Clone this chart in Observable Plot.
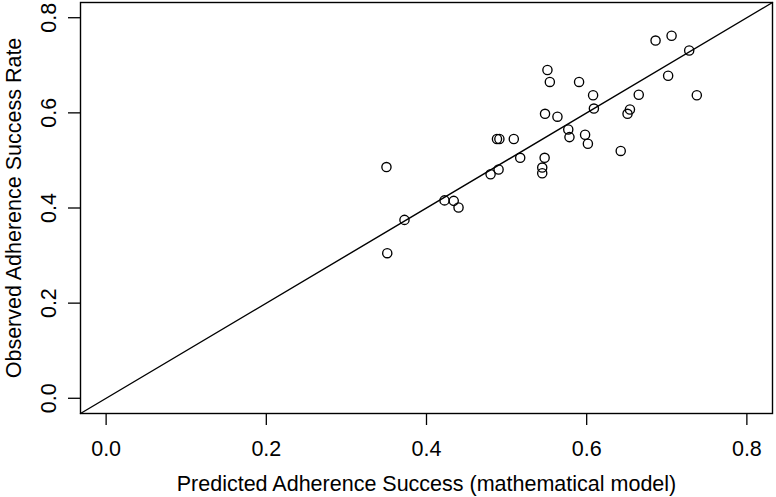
<!DOCTYPE html>
<html>
<head>
<meta charset="utf-8">
<script src="https://cdn.jsdelivr.net/npm/d3@7"></script>
<script src="https://cdn.jsdelivr.net/npm/@observablehq/plot@0.6"></script>
<style>
  html, body { margin: 0; padding: 0; background: #fff; }
</style>
</head>
<body>
<div id="chart"></div>
<script>
// Predicted (mathematical model) vs observed adherence success rate
const predicted = [0.350, 0.351, 0.3725, 0.4225, 0.434, 0.440, 0.480, 0.490, 0.488, 0.491,
                   0.509, 0.517, 0.5475, 0.5445, 0.5445, 0.551, 0.554, 0.548, 0.5635, 0.577,
                   0.5785, 0.598, 0.6015, 0.5905, 0.608, 0.609, 0.6425, 0.654, 0.651, 0.665,
                   0.686, 0.706, 0.728, 0.7017, 0.7375];
const observed  = [0.486, 0.305, 0.375, 0.416, 0.415, 0.401, 0.471, 0.481, 0.545, 0.545,
                   0.545, 0.5055, 0.5055, 0.485, 0.473, 0.690, 0.665, 0.598, 0.592, 0.565,
                   0.549, 0.554, 0.535, 0.665, 0.637, 0.609, 0.520, 0.607, 0.598, 0.638,
                   0.752, 0.762, 0.731, 0.678, 0.637];
const tickValues = [0, 0.2, 0.4, 0.6, 0.8];
const tickLabels = ["0.0", "0.2", "0.4", "0.6", "0.8"];
const axisLimits = [-0.032, 0.832];
const xTitle = "Predicted Adherence Success (mathematical model)";
const yTitle = "Observed Adherence Success Rate";

const points = predicted.map((p, i) => ({x: p, y: observed[i]}));
const identity = axisLimits.map(v => ({x: v, y: v}));
const fmt = d => tickLabels[tickValues.indexOf(d)];

const chart = Plot.plot({
  width: 776,
  height: 497,
  marginLeft: 80,
  marginRight: 4,
  marginTop: 2,
  marginBottom: 84,
  style: {fontFamily: "'Liberation Sans', Arial, Helvetica, sans-serif", fontSize: "21.5px", color: "#000", background: "#fff"},
  x: {domain: axisLimits},
  y: {domain: axisLimits},
  marks: [
    Plot.axisX({ticks: tickValues, tickFormat: fmt, tickSize: 12, tickPadding: 15, fontSize: 21.5, strokeWidth: 1.3, label: null}),
    Plot.axisY({ticks: tickValues, tickFormat: fmt, tickSize: 12, tickPadding: 13, tickRotate: -90, fontSize: 21.5, strokeWidth: 1.3, label: null}),
    Plot.line(identity, {x: "x", y: "y", stroke: "#000", strokeWidth: 1.4}),
    Plot.dot(points, {x: "x", y: "y", r: 4.6, stroke: "#000", strokeWidth: 1.35, fill: "none"}),
    Plot.frame({stroke: "#000", strokeWidth: 1.4}),
    Plot.text([xTitle], {frameAnchor: "bottom", dy: 77, lineAnchor: "bottom", textAnchor: "middle", fontSize: 21.5, fill: "#000"}),
    Plot.text([yTitle], {frameAnchor: "left", dx: -60, rotate: -90, lineAnchor: "bottom", textAnchor: "middle", fontSize: 21.5, fill: "#000"})
  ]
});
document.getElementById("chart").appendChild(chart);
</script>
</body>
</html>
